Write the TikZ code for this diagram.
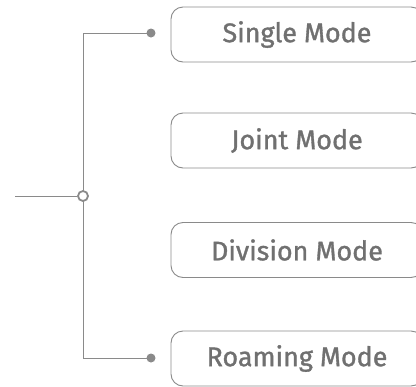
\documentclass[tikz,border=0pt]{standalone}
\usepackage{fontspec}
\setmainfont{Fira Sans}
\definecolor{linegray}{HTML}{8A8A8A}
\definecolor{textgray}{HTML}{707070}
\begin{document}
\begin{tikzpicture}[x=1bp,y=-1bp,
  modebox/.style={draw=linegray, line width=0.9bp, rounded corners=12bp, minimum width=252bp, minimum height=55bp, text=textgray, font=\fontsize{27}{30}\selectfont\addfontfeature{FakeBold=1.2}, inner sep=0pt},
  wire/.style={draw=linegray, line width=1bp},
  dotfill/.style={circle, fill=linegray, inner sep=0pt, minimum size=9bp},
  hub/.style={circle, draw=linegray, fill=white, line width=1.8bp, inner sep=0pt, minimum size=10bp}]
\useasboundingbox (0,0) rectangle (416,387);
\clip (0,0) rectangle (416,387);
\node[modebox] (single) at (297,34.5) {Single Mode};
\node[modebox] (joint) at (297,140.5) {Joint Mode};
\node[modebox] (division) at (297,250) {Division Mode};
\node[modebox] (roaming) at (297,358.5) {Roaming Mode};
\coordinate (start) at (15,196);
\coordinate (top) at (83,33);
\coordinate (bot) at (83,358);
\node[dotfill] (d1) at (151,33) {};
\node[dotfill] (d4) at (151,358) {};
\draw[wire] (top) -- (bot);
\draw[wire] (top) -- (d1.center);
\draw[wire] (bot) -- (d4.center);
\node[hub] (h) at (83,196) {};
\draw[wire] (start) -- (h.west);
\end{tikzpicture}
\end{document}
